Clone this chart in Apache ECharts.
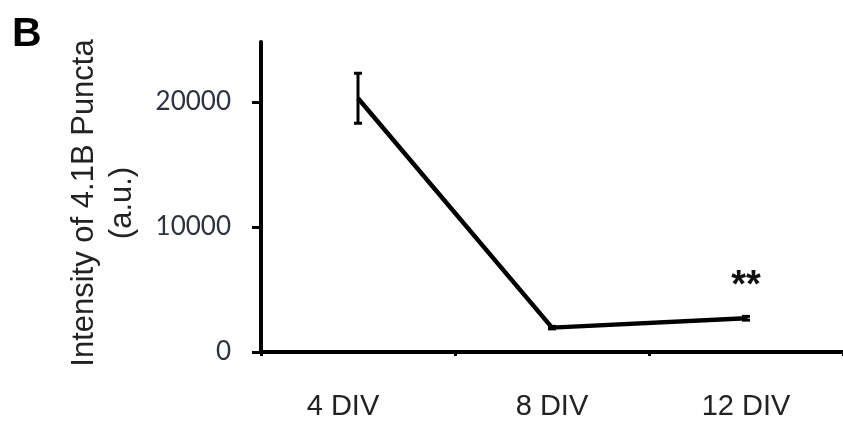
<!DOCTYPE html>
<html>
<head>
<meta charset="utf-8">
<script src="https://cdn.jsdelivr.net/npm/echarts@6/dist/echarts.min.js"></script>
<style>
html,body{margin:0;padding:0;background:#fff;}
#chart{width:843px;height:424px;}
</style>
</head>
<body>
<div id="chart"></div>
<script>
const categories = ['4 DIV', '8 DIV', '12 DIV'];
const meanValues = [20300, 1950, 2700];
const errorValues = [2000, 100, 150];
const sigMarks = ['', '', '**'];
const yTickValues = [0, 10000, 20000];

const chart = echarts.init(document.getElementById('chart'), null, {renderer: 'canvas'});

const xData = categories.map((c, i) => i === 0 ? {value: c, textStyle: {padding: [0, 30, 0, 0]}} : c);

const option = {
  backgroundColor: '#ffffff',
  animation: false,
  title: {
    text: 'B',
    left: 12,
    top: 14,
    padding: 0,
    textStyle: {fontFamily: 'Liberation Sans', fontSize: 41, fontWeight: 'bold', color: '#000'}
  },
  grid: {left: 261, right: -4.5, top: 42, bottom: 72, containLabel: false},
  xAxis: {
    type: 'category',
    data: xData,
    boundaryGap: true,
    axisLine: {show: true, lineStyle: {color: '#000', width: 4}},
    axisTick: {show: true, length: 4, lineStyle: {color: '#000', width: 3}},
    axisLabel: {fontFamily: 'Liberation Sans', fontSize: 29, color: '#222', margin: 40},
    splitLine: {show: false}
  },
  yAxis: {
    type: 'value',
    min: 0,
    max: 24800,
    name: 'Intensity of 4.1B Puncta\n(a.u.)',
    nameLocation: 'middle',
    nameGap: 120,
    nameTextStyle: {fontFamily: 'Liberation Sans', fontSize: 31, lineHeight: 38, color: '#222', padding: [0, 12, 0, 0]},
    axisLine: {show: true, lineStyle: {color: '#000', width: 4}},
    axisTick: {show: true, length: 9, customValues: yTickValues, lineStyle: {color: '#000', width: 3}},
    axisLabel: {fontFamily: 'Lato', fontSize: 26, color: '#2d3240', margin: 30, customValues: yTickValues,
                formatter: function (v) { return String(v); }},
    splitLine: {show: false}
  },
  series: [
    {
      type: 'line',
      data: meanValues.map((v, i) => ({
        value: v,
        label: {show: sigMarks[i] !== '', formatter: sigMarks[i], position: 'top', distance: 12,
                fontFamily: 'Liberation Sans', fontSize: 38, fontWeight: 'bold', color: '#111'}
      })),
      symbol: 'circle',
      symbolSize: 1,
      showSymbol: true,
      itemStyle: {color: '#000'},
      lineStyle: {color: '#000', width: 4.5},
      z: 2
    },
    {
      type: 'custom',
      data: categories.map((c, i) => [i, meanValues[i], errorValues[i]]),
      encode: {x: 0, y: 1},
      z: 3,
      renderItem: function (params, api) {
        const x = api.value(0), m = api.value(1), e = api.value(2);
        const top = api.coord([x, m + e]);
        const bot = api.coord([x, m - e]);
        const hw = 4;
        const st = {stroke: '#000', lineWidth: 3};
        return {
          type: 'group',
          children: [
            {type: 'line', shape: {x1: top[0], y1: top[1], x2: bot[0], y2: bot[1]}, style: st},
            {type: 'line', shape: {x1: top[0] - hw, y1: top[1], x2: top[0] + hw, y2: top[1]}, style: st},
            {type: 'line', shape: {x1: bot[0] - hw, y1: bot[1], x2: bot[0] + hw, y2: bot[1]}, style: st}
          ]
        };
      }
    }
  ]
};
chart.setOption(option);
</script>
</body>
</html>
